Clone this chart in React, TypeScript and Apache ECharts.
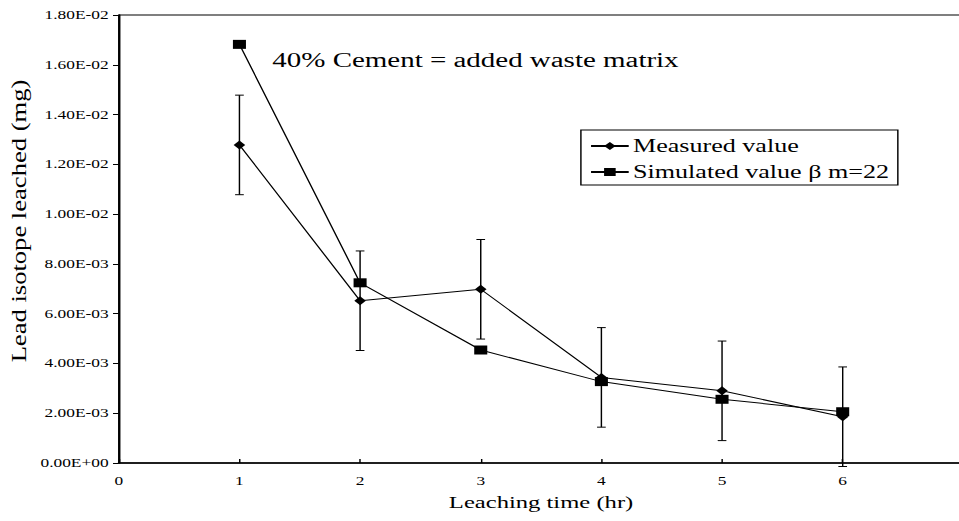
import React, { useEffect, useRef } from "react";
import * as echarts from "echarts";

const leachingTime = [1, 2, 3, 4, 5, 6];
const measuredValue = [0.01278, 0.00652, 0.00698, 0.00344, 0.0029, 0.00186];
const measuredError = [0.002, 0.002, 0.002, 0.002, 0.002, 0.002];
const simulatedValue = [0.01682, 0.00724, 0.00454, 0.00327, 0.00256, 0.00206];
const seriesNames = ["Measured value", "Simulated value β m=22"];
const xAxisTitle = "Leaching time (hr)";
const yAxisTitle = "Lead isotope leached (mg)";
const annotation = "40% Cement = added waste matrix";

const FONT = "Liberation Serif";
const STRETCH = 959 / 662;

function fmtExp(v: number): string {
  const [m, e] = v.toExponential(2).split("e");
  const n = parseInt(e, 10);
  const sign = n < 0 ? "-" : "+";
  const abs = Math.abs(n);
  return `${m}E${sign}${abs < 10 ? "0" + abs : abs}`;
}

export default function App() {
  const ref = useRef<HTMLDivElement>(null);

  useEffect(() => {
    if (!ref.current) return;
    const chart = echarts.init(ref.current, null, { renderer: "svg" });

    const errData = leachingTime.map((x, i) => [
      x,
      measuredValue[i] - measuredError[i],
      measuredValue[i] + measuredError[i],
    ]);

    const option: any = {
      animation: false,
      backgroundColor: "#fff",
      textStyle: { fontFamily: FONT, color: "#000" },
      grid: {
        left: 82,
        top: 15,
        width: 583,
        height: 448,
        outerBoundsMode: "none",
        containLabel: false,
        show: true,
        borderColor: "#000",
        borderWidth: 1,
        backgroundColor: "transparent",
      },
      legend: {
        orient: "vertical",
        left: 401,
        top: 130,
        data: seriesNames,
        itemWidth: 26,
        itemHeight: 10,
        itemGap: 4,
        padding: [5, 6, 2, 6],
        borderColor: "#000",
        borderWidth: 1,
        backgroundColor: "#fff",
        textStyle: {
          fontFamily: FONT,
          fontSize: 18,
          color: "#000",
          lineHeight: 22,
          padding: [0, 0, 0, -2],
        },
      },
      xAxis: {
        type: "value",
        min: 0,
        max: 7,
        interval: 1,
        name: xAxisTitle,
        nameLocation: "middle",
        nameGap: 31,
        nameTextStyle: {
          fontFamily: FONT,
          fontSize: 17,
          color: "#000",
        },
        axisLine: { show: true, lineStyle: { color: "#000", width: 1.5 } },
        axisTick: { show: true, inside: true, length: 4, lineStyle: { color: "#000" } },
        axisLabel: {
          fontFamily: FONT,
          fontSize: 12,
          color: "#000",
          margin: 12,
          showMaxLabel: false,
        },
        splitLine: { show: false },
      },
      yAxis: {
        type: "value",
        min: 0,
        max: 0.018,
        interval: 0.002,
        axisLine: { show: true, lineStyle: { color: "#000", width: 1.3 } },
        axisTick: { show: true, inside: false, length: 4, lineStyle: { color: "#000" } },
        axisLabel: {
          fontFamily: FONT,
          fontSize: 12,
          color: "#000",
          margin: 7,
          formatter: (v: number) => fmtExp(v),
        },
        splitLine: { show: false },
      },
      graphic: [
        {
          type: "text",
          x: 13,
          y: 221,
          rotation: Math.PI / 2,
          scaleX: 1.9,
          style: {
            text: yAxisTitle,
            fontFamily: FONT,
            fontSize: 14,
            fill: "#000",
            align: "center",
            verticalAlign: "middle",
          },
        },
        {
          type: "text",
          x: 188,
          y: 60,
          style: {
            text: annotation,
            fontFamily: FONT,
            fontSize: 20,
            fill: "#000",
            align: "left",
            verticalAlign: "middle",
          },
        },
      ],
      series: [
        {
          type: "custom",
          name: "error",
          z: 1,
          silent: true,
          encode: { x: 0, y: [1, 2] },
          data: errData,
          renderItem: (params: any, api: any) => {
            const x = api.value(0);
            const lo = api.value(1);
            const hi = api.value(2);
            const pHi = api.coord([x, hi]);
            const pLo = api.coord([x, lo]);
            const hw = 3;
            const st = { stroke: "#000", lineWidth: 1 };
            return {
              type: "group",
              children: [
                { type: "line", shape: { x1: pHi[0], y1: pHi[1], x2: pLo[0], y2: pLo[1] }, style: st },
                { type: "line", shape: { x1: pHi[0] - hw, y1: pHi[1], x2: pHi[0] + hw, y2: pHi[1] }, style: st },
                { type: "line", shape: { x1: pLo[0] - hw, y1: pLo[1], x2: pLo[0] + hw, y2: pLo[1] }, style: st },
              ],
            };
          },
        },
        {
          type: "line",
          name: seriesNames[0],
          z: 3,
          data: leachingTime.map((x, i) => [x, measuredValue[i]]),
          symbol: "diamond",
          symbolSize: [8, 9],
          showAllSymbol: true,
          lineStyle: { color: "#000", width: 1 },
          itemStyle: { color: "#000", borderWidth: 0 },
        },
        {
          type: "line",
          name: seriesNames[1],
          z: 4,
          data: leachingTime.map((x, i) => [x, simulatedValue[i]]),
          symbol: "rect",
          symbolSize: 9,
          showAllSymbol: true,
          lineStyle: { color: "#000", width: 1 },
          itemStyle: { color: "#000", borderWidth: 0 },
        },
      ],
    };

    chart.setOption(option);
    return () => chart.dispose();
  }, []);

  return (
    <div
      ref={ref}
      style={{
        position: "absolute",
        left: 0,
        top: 0,
        width: 662,
        height: 521,
        transform: `scaleX(${STRETCH})`,
        transformOrigin: "0 0",
        background: "#fff",
      }}
    />
  );
}
